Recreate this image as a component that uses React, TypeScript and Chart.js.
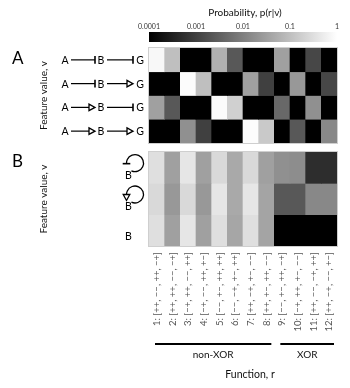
import React, { useEffect, useRef } from "react";
import { Chart, registerables } from "chart.js";
Chart.register(...registerables);

// ---------- data ----------
const functionIds = ["1", "2", "3", "4", "5", "6", "7", "8", "9", "10", "11", "12"];
const functionLabels = [
  "1: [++, −−, ++, −+]",
  "2: [++, ++, −−, −+]",
  "3: [−+, ++, −−, ++]",
  "4: [−+, −−, ++, +−]",
  "5: [−−, +−, ++, ++]",
  "6: [−−, −+, +−, ++]",
  "7: [++, −+, +−, −−]",
  "8: [++, +−, ++, −−]",
  "9: [−−, +−, ++, −+]",
  "10: [−+, ++, +−, −−]",
  "11: [++, −−, −+, ++]",
  "12: [++, −+, −−, +−]",
];

// Panel A: feature = network motif (rows), value = p(r|v)
const rowEdgesA: [string, string][] = [
  ["inh", "inh"],
  ["inh", "act"],
  ["act", "inh"],
  ["act", "act"],
];
const probA: number[][] = [
  [0.78, 0.1, 0, 0, 0.058, 0.0024, 0, 0, 0.032, 0, 0.0013, 0],
  [0, 0, 0.9, 0.1, 0, 0, 0.032, 0.001, 0, 0.024, 0, 0.0013],
  [0.032, 0.0024, 0, 0, 0.88, 0.18, 0, 0, 0.0043, 0, 0.018, 0],
  [0, 0, 0.018, 0.001, 0, 0, 0.9, 0.14, 0, 0.0024, 0, 0.0135],
];

// Panel B: feature = self loop on B
const rowLoopsB = ["selfInh", "selfAct", "none"];
const probB: number[][] = [
  [0.32, 0.032, 0.41, 0.032, 0.25, 0.044, 0.25, 0.032, 0.018, 0.016, 0.0005, 0.0005],
  [0.25, 0.024, 0.25, 0.024, 0.41, 0.044, 0.41, 0.037, 0.0024, 0.0024, 0.0135, 0.0135],
  [0.32, 0.032, 0.41, 0.032, 0.32, 0.04, 0.32, 0.037, 0, 0, 0, 0],
];

const groups = [
  { name: "non-XOR", first: 0, last: 7 },
  { name: "XOR", first: 8, last: 11 },
];

const cbRange: [number, number] = [0.0001, 1];
const cbTicks = [0.0001, 0.001, 0.01, 0.1, 1];
const cbTickLabels = ["0.0001", "0.001", "0.01", "0.1", "1"];

// ---------- helpers ----------
const FONT = "Lato, 'Open Sans', sans-serif";
const W = 350;
const H = 388;

function probToGray(p: number): string {
  if (!(p > 0)) return "rgb(0,0,0)";
  const lo = Math.log10(cbRange[0]);
  const hi = Math.log10(cbRange[1]);
  let t = (Math.log10(p) - lo) / (hi - lo);
  t = Math.max(0, Math.min(1, t));
  const g = Math.round(t * 255);
  return `rgb(${g},${g},${g})`;
}

function heatDatasets(prob: number[][]) {
  return prob.map((row, i) => ({
    label: "row" + i,
    data: row.map(() => [i, i + 1] as [number, number]),
    backgroundColor: row.map(probToGray),
    borderWidth: 0,
    barPercentage: 1,
    categoryPercentage: 1,
    grouped: false,
  }));
}

function drawInh(ctx: CanvasRenderingContext2D, x1: number, x2: number, y: number) {
  ctx.beginPath();
  ctx.lineWidth = 1.2;
  ctx.moveTo(x1, y);
  ctx.lineTo(x2, y);
  ctx.stroke();
  ctx.beginPath();
  ctx.lineWidth = 1.6;
  ctx.moveTo(x2, y - 3.8);
  ctx.lineTo(x2, y + 3.8);
  ctx.stroke();
}

function drawAct(ctx: CanvasRenderingContext2D, x1: number, x2: number, y: number) {
  ctx.beginPath();
  ctx.lineWidth = 1.2;
  ctx.moveTo(x1, y);
  ctx.lineTo(x2 - 6, y);
  ctx.stroke();
  ctx.beginPath();
  ctx.lineWidth = 1.3;
  ctx.moveTo(x2 - 6, y - 3.3);
  ctx.lineTo(x2, y);
  ctx.lineTo(x2 - 6, y + 3.3);
  ctx.closePath();
  ctx.fillStyle = "#fff";
  ctx.fill();
  ctx.stroke();
}

function frame(chart: any) {
  const a = chart.chartArea;
  const ctx = chart.ctx as CanvasRenderingContext2D;
  ctx.save();
  ctx.strokeStyle = "#cfcfcf";
  ctx.lineWidth = 1;
  ctx.strokeRect(a.left - 0.5, a.top - 0.5, a.right - a.left + 1, a.bottom - a.top + 1);
  ctx.restore();
}

function featureLabel(ctx: CanvasRenderingContext2D, x: number, y: number) {
  ctx.save();
  ctx.translate(x, y);
  ctx.rotate(-Math.PI / 2);
  ctx.textAlign = "center";
  ctx.textBaseline = "alphabetic";
  ctx.font = `10px ${FONT}`;
  ctx.fillStyle = "#111";
  ctx.fillText("Feature value, v", 0, 0);
  ctx.restore();
}

const panelAPlugin = {
  id: "panelA",
  afterDraw(chart: any) {
    frame(chart);
    const ctx = chart.ctx as CanvasRenderingContext2D;
    const ys = chart.scales.y;
    const a = chart.chartArea;
    ctx.save();
    ctx.fillStyle = "#000";
    ctx.strokeStyle = "#000";
    ctx.font = `17px ${FONT}`;
    ctx.textBaseline = "alphabetic";
    ctx.textAlign = "left";
    ctx.fillText("A", 12, 64);
    featureLabel(ctx, 47, (a.top + a.bottom) / 2);
    ctx.font = `10.5px ${FONT}`;
    ctx.textAlign = "center";
    ctx.textBaseline = "middle";
    rowEdgesA.forEach((edges, i) => {
      const y = ys.getPixelForValue(i + 0.5);
      ctx.fillStyle = "#000";
      ctx.fillText("A", 65, y + 0.5);
      ctx.fillText("B", 101, y + 0.5);
      ctx.fillText("G", 140, y + 0.5);
      const segs: [number, number][] = [
        [71, 95],
        [107, 133],
      ];
      edges.forEach((e, k) => {
        const [x1, x2] = segs[k];
        if (e === "inh") drawInh(ctx, x1, x2, y);
        else drawAct(ctx, x1, x2, y);
      });
    });
    ctx.restore();
  },
};

const panelBPlugin = {
  id: "panelB",
  afterDraw(chart: any) {
    frame(chart);
    const ctx = chart.ctx as CanvasRenderingContext2D;
    const ys = chart.scales.y;
    const xs = chart.scales.x;
    const a = chart.chartArea;
    ctx.save();
    ctx.fillStyle = "#000";
    ctx.strokeStyle = "#000";
    ctx.font = `17px ${FONT}`;
    ctx.textAlign = "left";
    ctx.textBaseline = "alphabetic";
    ctx.fillText("B", 12, 167);
    featureLabel(ctx, 47, (a.top + a.bottom) / 2);

    ctx.font = `10.5px ${FONT}`;
    ctx.textAlign = "center";
    ctx.textBaseline = "middle";
    rowLoopsB.forEach((loop, i) => {
      const yc = ys.getPixelForValue(i + 0.5);
      const by = loop === "none" ? yc + 6 : yc + 7.5;
      ctx.fillStyle = "#000";
      ctx.fillText("B", 128.5, by);
      if (loop !== "none") {
        const cx = 135;
        const cy = by - 12;
        const r = 8.5;
        ctx.beginPath();
        ctx.lineWidth = 1.3;
        ctx.arc(cx, cy, r, (115 * Math.PI) / 180, Math.PI, true);
        ctx.stroke();
        const lx = cx - r;
        if (loop === "selfInh") {
          ctx.beginPath();
          ctx.lineWidth = 1.6;
          ctx.moveTo(lx - 3.8, cy + 0.5);
          ctx.lineTo(lx + 3.8, cy + 0.5);
          ctx.stroke();
        } else {
          ctx.beginPath();
          ctx.lineWidth = 1.3;
          ctx.moveTo(lx - 3.3, cy);
          ctx.lineTo(lx + 3.3, cy);
          ctx.lineTo(lx, cy + 6);
          ctx.closePath();
          ctx.fillStyle = "#fff";
          ctx.fill();
          ctx.stroke();
        }
      }
    });

    // function groups
    const half = (xs.getPixelForValue(1) - xs.getPixelForValue(0)) / 2;
    const lineY = 344;
    groups.forEach((g) => {
      const x1 = xs.getPixelForValue(g.first) - half + 6;
      const x2 = xs.getPixelForValue(g.last) + half - 3;
      ctx.beginPath();
      ctx.lineWidth = 2;
      ctx.strokeStyle = "#000";
      ctx.moveTo(x1, lineY);
      ctx.lineTo(x2, lineY);
      ctx.stroke();
      ctx.font = `10px ${FONT}`;
      ctx.fillStyle = "#111";
      ctx.textAlign = "center";
      ctx.textBaseline = "middle";
      ctx.fillText(g.name, (x1 + x2) / 2, 355);
    });
    ctx.font = `10.5px ${FONT}`;
    ctx.fillText("Function, r", 250, 375);
    ctx.restore();
  },
};

const colorbarPlugin = {
  id: "cbTitle",
  afterDraw(chart: any) {
    const ctx = chart.ctx as CanvasRenderingContext2D;
    const a = chart.chartArea;
    ctx.save();
    ctx.font = `10px ${FONT}`;
    ctx.fillStyle = "#111";
    ctx.textAlign = "center";
    ctx.textBaseline = "middle";
    ctx.fillText("Probability, p(r|v)", (a.left + a.right) / 2 + 2, 13);
    ctx.restore();
  },
};

export default function App() {
  const cbRef = useRef<HTMLCanvasElement>(null);
  const aRef = useRef<HTMLCanvasElement>(null);
  const bRef = useRef<HTMLCanvasElement>(null);

  useEffect(() => {
    document.body.style.margin = "0";
    const charts: Chart[] = [];
    const common = {
      animation: false as const,
      responsive: false,
      maintainAspectRatio: false,
      events: [] as any[],
    };

    charts.push(
      new Chart(cbRef.current!, {
        type: "bar",
        data: {
          labels: ["p"],
          datasets: [
            {
              data: [cbRange],
              backgroundColor: (c: any) => {
                const chart = c.chart;
                const xs = chart.scales.x;
                if (!xs || !chart.chartArea) return "#777";
                const g = chart.ctx.createLinearGradient(
                  xs.getPixelForValue(cbRange[0]),
                  0,
                  xs.getPixelForValue(cbRange[1]),
                  0
                );
                g.addColorStop(0, "#000");
                g.addColorStop(1, "#fff");
                return g;
              },
              borderWidth: 0,
              barPercentage: 1,
              categoryPercentage: 1,
            } as any,
          ],
        },
        options: {
          ...common,
          indexAxis: "y",
          layout: { padding: { left: 149, right: 13, top: 20, bottom: H - 42 } },
          plugins: { legend: { display: false }, tooltip: { enabled: false } },
          scales: {
            x: {
              type: "logarithmic",
              position: "top",
              min: cbRange[0],
              max: cbRange[1],
              afterBuildTicks: (s: any) => {
                s.ticks = cbTicks.map((v) => ({ value: v }));
              },
              afterFit: (s: any) => {
                s.height = 12;
              },
              ticks: {
                autoSkip: false,
                maxRotation: 0,
                padding: 1,
                color: "#333",
                font: { family: FONT, size: 7 },
                callback: (_v: any, i: number) => cbTickLabels[i],
              },
              grid: { display: false, drawTicks: false },
              border: { display: false },
            },
            y: { display: false },
          },
        } as any,
        plugins: [colorbarPlugin],
      })
    );

    charts.push(
      new Chart(aRef.current!, {
        type: "bar",
        data: { labels: functionIds, datasets: heatDatasets(probA) as any },
        options: {
          ...common,
          layout: { padding: { left: 149, right: 13, top: 48, bottom: H - 143 } },
          plugins: { legend: { display: false }, tooltip: { enabled: false } },
          scales: {
            x: { display: false },
            y: { display: false, min: 0, max: probA.length, reverse: true },
          },
        } as any,
        plugins: [panelAPlugin],
      })
    );

    charts.push(
      new Chart(bRef.current!, {
        type: "bar",
        data: { labels: functionLabels, datasets: heatDatasets(probB) as any },
        options: {
          ...common,
          layout: { padding: { left: 149, right: 13, top: 152, bottom: H - 246 - 100 } },
          plugins: { legend: { display: false }, tooltip: { enabled: false } },
          scales: {
            x: {
              position: "bottom",
              afterFit: (s: any) => {
                s.height = 100;
              },
              grid: { display: false, drawTicks: false },
              border: { display: false },
              ticks: {
                autoSkip: false,
                minRotation: 90,
                maxRotation: 90,
                padding: 6,
                color: "#555",
                font: { family: FONT, size: 9.5 },
              },
            },
            y: { display: false, min: 0, max: probB.length, reverse: true },
          },
        } as any,
        plugins: [panelBPlugin],
      })
    );

    return () => charts.forEach((c) => c.destroy());
  }, []);

  const cs: React.CSSProperties = { position: "absolute", left: 0, top: 0 };
  return (
    <div style={{ position: "relative", width: W, height: H, background: "#fff" }}>
      <canvas ref={cbRef} width={W} height={H} style={cs} />
      <canvas ref={aRef} width={W} height={H} style={cs} />
      <canvas ref={bRef} width={W} height={H} style={cs} />
    </div>
  );
}
